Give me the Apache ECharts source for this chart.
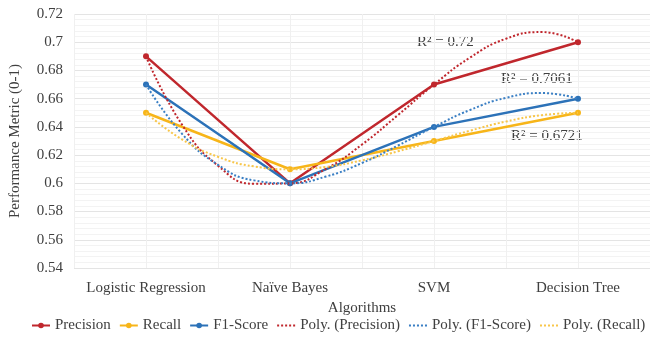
<!DOCTYPE html>
<html><head><meta charset="utf-8">
<script src="https://cdn.jsdelivr.net/npm/echarts@6/dist/echarts.min.js"></script>
<style>html,body{margin:0;padding:0;background:#fff}#c{width:650px;height:341px}</style>
</head><body><div id="c"></div>
<script>
const categories = ['Logistic Regression', 'Naïve Bayes', 'SVM', 'Decision Tree'];
const precision = [0.69, 0.60, 0.67, 0.70];
const recall = [0.65, 0.61, 0.63, 0.65];
const f1 = [0.67, 0.60, 0.64, 0.66];
// positions along the category axis (0 = first category) for the dotted polynomial trend curves
const trendX = [0, 0.25, 0.5, 0.75, 1, 1.25, 1.5, 1.75, 2, 2.25, 2.5, 2.75, 3];
const polyPrecision = [0.69, 0.6416, 0.6125, 0.5997, 0.60, 0.6103, 0.6275, 0.6484, 0.67, 0.6891, 0.7025, 0.7072, 0.70];
const polyF1 = [0.67, 0.6351, 0.6131, 0.6021, 0.60, 0.6048, 0.6144, 0.6268, 0.64, 0.6520, 0.6606, 0.6640, 0.66];
const polyRecall = [0.65, 0.6311, 0.6188, 0.6120, 0.61, 0.6117, 0.6163, 0.6227, 0.63, 0.6373, 0.6438, 0.6483, 0.65];
const yTicks = [0.54, 0.56, 0.58, 0.60, 0.62, 0.64, 0.66, 0.68, 0.70, 0.72];
const r2Labels = ['R² = 0.72', 'R² = 0.7061', 'R² = 0.6721'];

const FONT = 'Liberation Serif';
const FS = 15;
const TXT = '#404040';
const RED = '#C0272D', GOLD = '#F7B519', BLUE = '#2C72B8';
const pair = (xs, ys) => xs.map((x, i) => [x, ys[i]]);

const chart = echarts.init(document.getElementById('c'));
const mainSeries = (name, data, color) => ({
  name, type: 'line', data, xAxisIndex: 0,
  symbol: 'circle', symbolSize: 6,
  lineStyle: { color, width: 2.5 }, itemStyle: { color },
  z: 3
});
const trendSeries = (name, data, color) => ({
  name, type: 'line', data: pair(trendX, data), xAxisIndex: 1,
  symbol: 'none', smooth: true,
  lineStyle: { color, width: 2, type: 'dotted' }, itemStyle: { color },
  z: 4
});
chart.setOption({
  animation: false,
  textStyle: { fontFamily: FONT },
  grid: { left: 73, right: 0, top: 14, bottom: 73 },
  legend: {
    bottom: 8, left: 31, itemGap: 8, itemWidth: 18, itemHeight: 7,
    padding: 0,
    textStyle: { fontFamily: FONT, fontSize: FS, color: TXT },
    data: [
      'Precision', 'Recall', 'F1-Score',
      { name: 'Poly. (Precision)', itemStyle: { opacity: 0 } },
      { name: 'Poly. (F1-Score)', itemStyle: { opacity: 0 } },
      { name: 'Poly. (Recall)', itemStyle: { opacity: 0 } }
    ]
  },
  xAxis: [{
    type: 'category', data: categories, boundaryGap: true,
    axisLine: { show: false }, axisTick: { show: false },
    axisLabel: { fontFamily: FONT, fontSize: FS, color: TXT, margin: 13, interval: 0 },
    splitLine: { show: true, interval: 0, lineStyle: { color: '#e2e2e2', width: 1 } },
    name: 'Algorithms', nameLocation: 'middle', nameGap: 33,
    nameTextStyle: { fontFamily: FONT, fontSize: FS, color: TXT }
  }, {
    type: 'value', min: -0.5, max: 3.5, interval: 0.5, position: 'top',
    axisLine: { show: false }, axisTick: { show: false }, axisLabel: { show: false },
    splitLine: { show: true, lineStyle: { color: '#f0f0f0', width: 1 } }
  }],
  yAxis: {
    type: 'value', min: yTicks[0], max: yTicks[yTicks.length - 1], interval: 0.02,
    axisLine: { show: false }, axisTick: { show: false },
    axisLabel: { fontFamily: FONT, fontSize: FS, color: TXT, margin: 11,
      formatter: v => String(+v.toFixed(2)) },
    splitLine: { show: true, lineStyle: { color: '#e4e4e4', width: 1 } },
    minorTick: { show: false, splitNumber: 5 },
    minorSplitLine: { show: true, lineStyle: { color: '#f3f3f3', width: 1 } },
    name: 'Performance Metric (0-1)', nameLocation: 'middle', nameGap: 51, nameRotate: 90,
    nameTextStyle: { fontFamily: FONT, fontSize: FS, color: TXT }
  },
  series: [
    mainSeries('Precision', precision, RED),
    mainSeries('Recall', recall, GOLD),
    mainSeries('F1-Score', f1, BLUE),
    trendSeries('Poly. (Precision)', polyPrecision, RED),
    trendSeries('Poly. (F1-Score)', polyF1, '#3A7FC4'),
    trendSeries('Poly. (Recall)', polyRecall, '#F8C64A')
  ],
  graphic: [
    { type: 'text', left: 417, top: 35, style: { text: r2Labels[0], font: FS + 'px ' + FONT, fill: TXT } },
    { type: 'text', left: 501, top: 72, style: { text: r2Labels[1], font: FS + 'px ' + FONT, fill: TXT } },
    { type: 'text', left: 511, top: 129, style: { text: r2Labels[2], font: FS + 'px ' + FONT, fill: TXT } }
  ]
});
</script></body></html>
